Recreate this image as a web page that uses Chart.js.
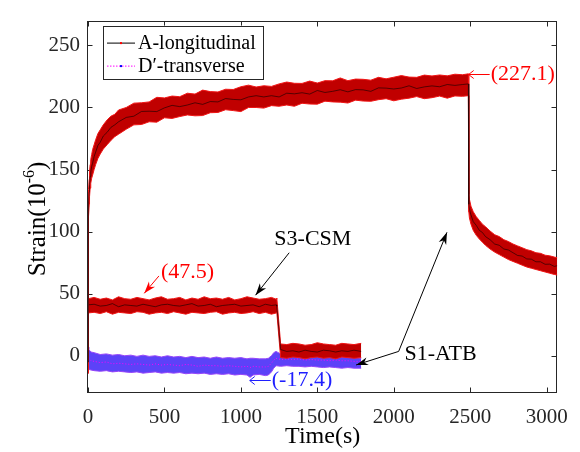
<!DOCTYPE html>
<html><head><meta charset="utf-8">
<script src="https://cdn.jsdelivr.net/npm/chart.js@4.4.1/dist/chart.umd.min.js"></script>
<style>html,body{margin:0;padding:0;background:#fff;}#wrap{width:580px;height:452px;}</style>
</head><body><div id="wrap"><canvas id="c" width="580" height="452"></canvas></div>
<script>
// ---- axes ----
const xTicks = [0, 500, 1000, 1500, 2000, 2500, 3000];
const xTickLabels = ['0', '500', '1000', '1500', '2000', '2500', '3000'];
const yTicks = [0, 50, 100, 150, 200, 250];
const yTickLabels = ['0', '50', '100', '150', '200', '250'];
const xRange = [0, 3070];
const yRange = [-30, 270];
const seriesNames = ['A-longitudinal', 'D\u2032-transverse'];
const xTitle = 'Time(s)';
const yTitle = ['Strain(10', '-6', ')'];

// ---- S1 (A-longitudinal, creep + recovery) : time, upper edge, lower edge, trace ----
const tS1 = [0,1,2,3,4,6,8,10,14,18,24,30,40,50,65,80,100,125,150,175,200,250,300,350,400,450,500,550,600,650,700,750,800,850,900,950,1000,1050,1100,1150,1200,1250,1300,1350,1400,1450,1500,1550,1600,1650,1700,1750,1800,1850,1900,1950,2000,2050,2100,2150,2200,2250,2300,2350,2400,2450,2488,2491,2495,2505,2520,2540,2560,2580,2600,2630,2660,2690,2720,2750,2780,2810,2840,2870,2900,2930,2960,2990,3020,3050,3070];
const upS1 = [2,42,80,105,121,134,142,148,154,158,162,166,170,174,179,182,186,190,193,194.5,198,200,203.5,203.8,204.5,208.2,207.7,209.2,208.7,211.5,210.8,214,212.8,212.5,214.7,214.5,216.7,218,216.5,217.5,217,219,220.5,219.5,219.4,221.3,219.7,221.6,221.5,223.8,221.6,222.9,222.7,222,224.3,223.1,224.4,225.7,224.5,224.3,226.1,225.4,226.2,225.5,226.8,226.4,227.1,130,126,120.5,116,112,109,106,104,100.5,97.5,96,93.5,92,90,88.5,87,85.5,84.5,83,82.5,81,80.5,79.5,79];
const loS1 = [-14,8,50,80,98,112,122,128,135,139,143,145.5,150,154,159,162.5,166.5,170,173.5,176.5,178.5,182.5,186,186.3,188.5,188.2,191.7,191.2,192.7,194,193.3,193.5,195.8,196,198.2,197.5,196.7,200,200,199.5,201.5,201,202,201,203.4,202.8,202.7,205.1,204.5,204.3,203.6,205.9,205.2,205,206.3,207.1,205.4,206.7,207.5,208.8,207.1,207.9,209.2,207.5,209.3,209,209.5,116,111,106,101,97,94,91.5,89,86,83.5,81.5,79.5,77.5,76,74.5,73,71.5,70.5,69.5,68.5,67.5,66.5,65.5,65];
const trS1 = [-5,25,65,92,110,123,132,138,144.5,148,152.5,155,160.5,164,169.5,172,177,180,184,186,188.5,192,193,196.8,197,196.7,199.7,201.7,200.7,202,203.8,202.5,204.8,204.5,207.2,206.5,206.2,208.5,209.5,208.5,209.5,208.5,211.5,211,211.9,210.8,213.7,212.1,213,214.3,212.6,214.4,214.2,213,215.8,215.6,214.9,215.7,217.5,215.3,216.6,217.4,216.7,218.5,217.8,218.5,219,122,118,113.5,108,105,101,99.3,96,93.5,90,89,86,85.2,83,80.8,80.3,78,77.8,75.7,75.7,73.7,73.8,72,72.5];

// ---- S3 (A-longitudinal, plateau then step) ----
const tS3 = [0,2,40,80,120,160,200,240,280,320,360,400,440,480,520,560,600,640,680,720,760,800,840,880,920,960,1000,1040,1080,1120,1160,1200,1232,1235,1260,1300,1340,1380,1420,1460,1500,1540,1580,1620,1660,1700,1740,1787];
const upS3 = [-5,46,47,45.5,46.5,45,47.5,46,45.5,47,46,45,46.5,47.5,45.5,46,47,45,46.5,45.5,47.5,46,46.5,45.5,47,45,46,47.5,46.5,45.5,46,47,45.5,46.5,9.5,9,10,9.5,8.5,9,10.5,9.5,9,8.5,10,9.5,9,10,9.5];
const loS3 = [-14,34.5,35,34,35.5,33.5,35,34.5,34,35.5,35,33.5,34.5,35,34,35.5,34.5,33.5,35,34.5,34,35,35.5,33.5,34.5,35,34,34.5,35.5,34,35,33.5,34.5,35,-1.5,-2,-1,-1.5,-2.5,-1.5,-1,-2,-1.5,-2.5,-1,-1.5,-2,-1.5,-2];
const trS3 = [-12,41,41.5,40,40.5,42,39.5,41,40.5,40,41.5,40.5,39.5,41,41.5,40.5,40,41,42,40,40.5,41.5,39.5,40.5,41,41.5,40,40.5,41,39.5,41.5,40.5,41,40,5,3.5,4,3,4.5,3.5,3,4.5,4,3,4,3.5,4.5,3.5,4];

// ---- D' (transverse) ----
const tD = [0,5,20,40,80,120,160,200,240,280,320,360,400,440,480,520,560,600,640,680,720,760,800,840,880,920,960,1000,1040,1060,1080,1120,1160,1180,1200,1215,1230,1260,1300,1340,1380,1420,1460,1500,1540,1580,1620,1660,1700,1740,1787];
const upD = [7,5,3,2.5,1,1.5,0.5,1,0,0.5,-0.5,0.5,-0.5,0,-1,0,-1,-0.5,-1.5,-0.5,-1.5,-1,-2,-1,-2,-1.5,-2,-1.5,-2.5,-2,-2,-2.5,-2.5,-2,0,2.5,3.5,1.5,1,0.5,1,0,0.5,-0.5,0,-1,-0.5,-1,-1.5,-1.5,-2];
const loD = [-10,-11,-11.5,-12,-12.5,-12,-13,-12.5,-13,-13.5,-13,-14,-13.5,-13,-14,-13.5,-14,-13.5,-14.5,-14,-14.5,-14,-15,-14.5,-15,-14.5,-15.5,-15,-15.5,-17.4,-15.5,-15,-16,-15.5,-13,-10,-8,-8.5,-8,-8.5,-8.5,-9,-8.5,-9,-9.5,-9,-9.5,-10,-9.5,-10,-10];
const trD = [1,-2,-4,-4.5,-5.5,-5,-6.5,-6,-6.5,-7,-6.5,-7,-7.5,-6.5,-7.5,-7,-7.5,-8,-7,-7.5,-8.5,-7.5,-8,-8,-8.5,-8,-8.5,-9,-8.5,-9.5,-8.5,-9,-9,-8.5,-6,-3.5,-2,-3,-2.5,-3,-2.5,-3.5,-3,-3.5,-3.5,-4,-3.5,-4,-4,-4.5,-4.5];

// ---- annotations (data coordinates) ----
const labels = [
  {text:'(227.1)', x:2490, y:227.1, color:'#ff0000', leftArrow:true},
  {text:'(47.5)', x:477, y:67.4, color:'#ff0000'},
  {text:'S3-CSM', x:1219, y:93.9, color:'#000000'},
  {text:'S1-ATB', x:2070, y:1.2, color:'#000000'},
  {text:'(-17.4)', x:1058, y:-19.9, color:'#1f1fff', leftArrow:true}
];
const arrows = [
  {from:[464, 64.3], to:[368, 50.3], color:'#ff0000'},
  {from:[1316, 83.0], to:[1096, 48.8], color:'#000000'},
  {from:[2032, 3.5], to:[2348, 99.4], color:'#000000'},
  {from:[2032, 3.5], to:[1754, -7.4], color:'#000000'}
];

const RED_FILL = 'rgb(192,0,0)', RED_EDGE = 'rgb(240,20,20)';
const BLUE_FILL = 'rgb(92,66,248)', BLUE_EDGE = 'rgb(150,70,250)';
const SERIF = '"Liberation Serif", "Times New Roman", serif';

function pts(t, v) { return t.map((x, i) => ({x: x, y: v[i]})); }
[[tS1,upS1,loS1,trS1],[tS3,upS3,loS3,trS3],[tD,upD,loD,trD]].forEach((g,k)=>{g.forEach((a,j)=>{if(a.length!==g[0].length)console.error('len mismatch',k,j,a.length,g[0].length);});});

function band(t, up, lo, tr, fill, edge, trace) {
  return [
    {data: pts(t, tr), borderColor: trace.color, borderWidth: trace.width, borderDash: trace.dash || [], fill: false},
    {data: pts(t, up), borderColor: edge, borderWidth: 1, fill: false},
    {data: pts(t, lo), borderColor: edge, borderWidth: 1, fill: '-1', backgroundColor: fill}
  ];
}
const datasets = [].concat(
  band(tS1, upS1, loS1, trS1, RED_FILL, RED_EDGE, {color:'rgba(0,0,0,0.7)', width:0.8}),
  band(tS3, upS3, loS3, trS3, RED_FILL, RED_EDGE, {color:'rgba(0,0,0,0.7)', width:0.8}),
  band(tD, upD, loD, trD, BLUE_FILL, BLUE_EDGE, {color:'#ff00ff', width:1, dash:[1,2]})
).map(d => Object.assign(d, {showLine: true, pointRadius: 0, tension: 0}));

function arrowHead(ctx, x1, y1, x2, y2, len, wid) {
  const a = Math.atan2(y2 - y1, x2 - x1);
  const c = Math.cos(a), s = Math.sin(a);
  const bx = x2 - len * c, by = y2 - len * s;
  const nx = x2 - len * 0.7 * c, ny = y2 - len * 0.7 * s;
  ctx.beginPath();
  ctx.moveTo(x2, y2);
  ctx.lineTo(bx - wid / 2 * s, by + wid / 2 * c);
  ctx.lineTo(nx, ny);
  ctx.lineTo(bx + wid / 2 * s, by - wid / 2 * c);
  ctx.closePath();
  ctx.fill();
}

const deco = {
  id: 'deco',
  beforeDatasetsDraw(chart) {
    const {ctx, chartArea: a, scales: {x, y}} = chart;
    ctx.save();
    ctx.strokeStyle = '#262626'; ctx.lineWidth = 1;
    const L = Math.round(a.left) - 0.5, R = Math.round(a.right) - 0.5, T = Math.round(a.top) + 0.5, B = Math.round(a.bottom) - 0.5;
    ctx.strokeRect(L, T, R - L, B - T);
    ctx.beginPath();
    xTicks.forEach(v => { const p = Math.round(x.getPixelForValue(v)) + 0.5; ctx.moveTo(p, B); ctx.lineTo(p, B - 5); ctx.moveTo(p, T); ctx.lineTo(p, T + 5); });
    yTicks.forEach(v => { const p = Math.round(y.getPixelForValue(v)) + 0.5; ctx.moveTo(L, p); ctx.lineTo(L + 5, p); ctx.moveTo(R, p); ctx.lineTo(R - 5, p); });
    ctx.stroke();
    ctx.restore();
  },
  afterDraw(chart) {
    const {ctx, chartArea: a, scales: {x, y}} = chart;
    ctx.save();
    // axis titles
    ctx.fillStyle = '#000';
    ctx.font = '24px ' + SERIF;
    ctx.textAlign = 'center'; ctx.textBaseline = 'middle';
    ctx.fillText(xTitle, (a.left + a.right) / 2, 437);
    ctx.save();
    ctx.translate(37, 219);
    ctx.rotate(-Math.PI / 2);
    ctx.font = '25px ' + SERIF;
    const w1 = ctx.measureText(yTitle[0]).width;
    const w3 = ctx.measureText(yTitle[2]).width;
    ctx.font = '16px ' + SERIF;
    const w2 = ctx.measureText(yTitle[1]).width;
    let sx = -(w1 + w2 + w3) / 2;
    ctx.textAlign = 'left'; ctx.textBaseline = 'alphabetic';
    ctx.font = '25px ' + SERIF; ctx.fillText(yTitle[0], sx, 8); sx += w1;
    ctx.font = '16px ' + SERIF; ctx.fillText(yTitle[1], sx, -3); sx += w2;
    ctx.font = '25px ' + SERIF; ctx.fillText(yTitle[2], sx, 8);
    ctx.restore();

    // legend
    const lx = a.left + 15, ly = a.top + 5, lw = 160, lh = 53;
    ctx.fillStyle = '#fff'; ctx.fillRect(lx, ly, lw, lh);
    ctx.strokeStyle = '#262626'; ctx.lineWidth = 1;
    ctx.strokeRect(Math.round(lx) + 0.5, Math.round(ly) + 0.5, lw, lh);
    const rows = [
      {name: seriesNames[0], line: '#000', dash: [], dot: '#ff0000', yy: ly + 17},
      {name: seriesNames[1], line: '#ff00ff', dash: [1.5, 1.5], dot: '#0000ff', yy: ly + 40}
    ];
    rows.forEach(r => {
      ctx.strokeStyle = r.line; ctx.lineWidth = 1; ctx.setLineDash(r.dash);
      ctx.beginPath(); ctx.moveTo(lx + 4, r.yy + 0.5); ctx.lineTo(lx + 32, r.yy + 0.5); ctx.stroke();
      ctx.setLineDash([]);
      ctx.fillStyle = r.dot; ctx.fillRect(lx + 17, r.yy - 0.5, 2, 2);
      ctx.fillStyle = '#000'; ctx.font = '20px ' + SERIF; ctx.textAlign = 'left'; ctx.textBaseline = 'middle';
      ctx.fillText(r.name, lx + 35, r.yy + 1);
    });

    // annotations
    ctx.font = '22px ' + SERIF; ctx.textAlign = 'left'; ctx.textBaseline = 'middle';
    labels.forEach(l => {
      let px = x.getPixelForValue(l.x);
      const py = y.getPixelForValue(l.y);
      ctx.fillStyle = l.color; ctx.strokeStyle = l.color; ctx.lineWidth = 1;
      if (l.leftArrow) {
        const ay = Math.round(py) + 0.5;
        ctx.beginPath();
        ctx.moveTo(px + 21, ay); ctx.lineTo(px, ay);
        ctx.moveTo(px + 5, ay - 4); ctx.lineTo(px, ay); ctx.lineTo(px + 5, ay + 4);
        ctx.stroke();
        px += 22;
      }
      ctx.fillText(l.text, px, py);
    });
    arrows.forEach(r => {
      const x1 = x.getPixelForValue(r.from[0]), y1 = y.getPixelForValue(r.from[1]);
      const x2 = x.getPixelForValue(r.to[0]), y2 = y.getPixelForValue(r.to[1]);
      ctx.strokeStyle = r.color; ctx.fillStyle = r.color; ctx.lineWidth = 1;
      ctx.beginPath(); ctx.moveTo(x1, y1); ctx.lineTo(x2, y2); ctx.stroke();
      arrowHead(ctx, x1, y1, x2, y2, 12, 8);
    });
    ctx.restore();
  }
};

new Chart(document.getElementById('c'), {
  type: 'scatter',
  data: {datasets: datasets},
  plugins: [deco],
  options: {
    responsive: false, animation: false, devicePixelRatio: 1,
    layout: {padding: {top: 8, right: 16, left: 0, bottom: 0}},
    plugins: {legend: {display: false}, tooltip: {enabled: false}, filler: {propagate: false}},
    elements: {line: {borderJoinStyle: 'round'}},
    scales: {
      x: {
        type: 'linear', min: xRange[0], max: xRange[1],
        grid: {display: false, drawTicks: false}, border: {display: false},
        afterBuildTicks: s => { s.ticks = xTicks.map(v => ({value: v})); },
        afterFit: s => { s.height = 59; },
        ticks: {padding: 12, maxRotation: 0, autoSkip: false, color: '#262626', font: {family: SERIF, size: 21},
          callback: (v) => xTickLabels[xTicks.indexOf(v)]}
      },
      y: {
        type: 'linear', min: yRange[0], max: yRange[1],
        grid: {display: false, drawTicks: false}, border: {display: false},
        afterBuildTicks: s => { s.ticks = yTicks.map(v => ({value: v})); },
        afterFit: s => { s.width = 88; },
        ticks: {padding: 8, autoSkip: false, color: '#262626', font: {family: SERIF, size: 21},
          callback: (v) => yTickLabels[yTicks.indexOf(v)]}
      }
    }
  }
});
</script></body></html>
